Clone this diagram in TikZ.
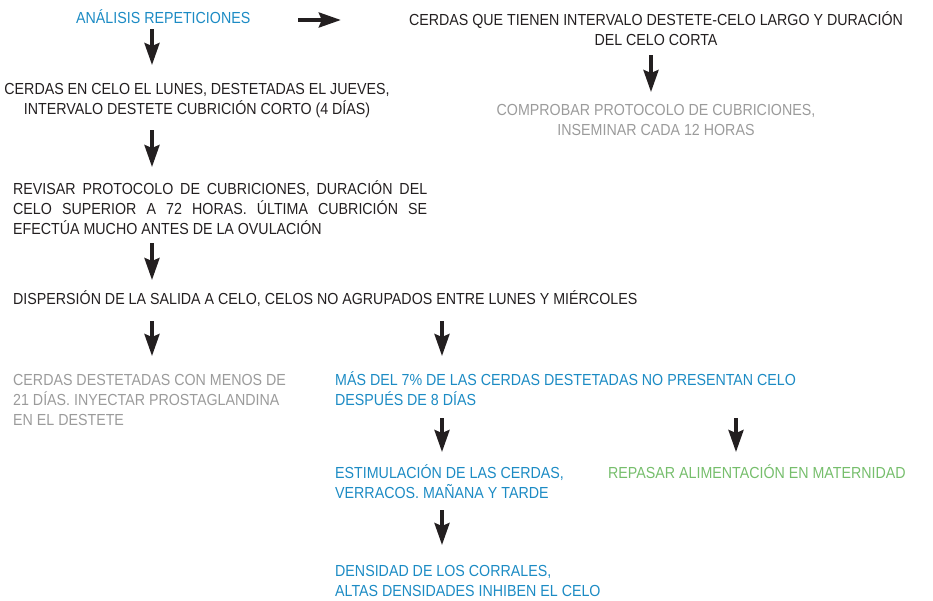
\documentclass[tikz,border=0pt]{standalone}
\usepackage{fontspec}
\setmainfont{Liberation Sans}[FakeStretch=0.89, HyphenChar=None]
\usepackage{tikz}
\usetikzlibrary{arrows.meta}
\definecolor{negro}{RGB}{35,31,32}
\definecolor{azul}{RGB}{28,139,196}
\definecolor{gris}{RGB}{155,155,155}
\definecolor{verde}{RGB}{118,190,108}

\tikzset{
  texto/.style={inner sep=0pt, anchor=base west, text=negro,
    font=\fontsize{16}{20}\selectfont, align=left},
  centrado/.style={texto, anchor=base, align=center},
  flecha/.style={line width=3.5pt, draw=negro,
    -{Stealth[length=22pt,width=15pt,inset=3pt]}}
}

\begin{document}
\begin{tikzpicture}[x=1pt,y=-1pt]
      \useasboundingbox (0,0) rectangle (933,600);
      \coordinate (colA) at (152,0);
      \coordinate (colB) at (651,0);
      \coordinate (colC) at (442,0);
      \coordinate (colD) at (736,0);
      % nodes sit on the baseline of their last line
      \node[texto, text=azul] (analisis) at (76,23) {ANÁLISIS REPETICIONES};
      \node[centrado] (cerdaslargo) at (656,45) {CERDAS QUE TIENEN INTERVALO DESTETE-CELO LARGO Y DURACIÓN\\DEL CELO CORTA};
      \node[centrado] (celolunes) at (197,114) {CERDAS EN CELO EL LUNES, DESTETADAS EL JUEVES,\\INTERVALO DESTETE CUBRICIÓN CORTO (4 DÍAS)};
      \node[centrado, text=gris] (comprobar) at (656,135) {COMPROBAR PROTOCOLO DE CUBRICIONES,\\INSEMINAR CADA 12 HORAS};
      \node[texto, text width=414pt, align=justify] (revisar) at (13,194) {REVISAR PROTOCOLO DE CUBRICIONES, DURACIÓN DEL CELO SUPERIOR A 72 HORAS. ÚLTIMA CUBRICIÓN SE EFECTÚA MUCHO ANTES DE LA OVULACIÓN};
      \node[texto] (dispersion) at (13,304) {DISPERSIÓN DE LA SALIDA A CELO, CELOS NO AGRUPADOS ENTRE LUNES Y MIÉRCOLES};
      \node[texto, text=gris] (destetadas) at (13,425) {CERDAS DESTETADAS CON MENOS DE\\21 DÍAS. INYECTAR PROSTAGLANDINA\\EN EL DESTETE};
      \node[texto, text=azul] (mas7) at (335,405) {MÁS DEL 7\% DE LAS CERDAS DESTETADAS NO PRESENTAN CELO\\DESPUÉS DE 8 DÍAS};
      \node[texto, text=azul] (estimulacion) at (335,498) {ESTIMULACIÓN DE LAS CERDAS,\\VERRACOS. MAÑANA Y TARDE};
      \node[texto, text=verde] (repasar) at (608,478) {REPASAR ALIMENTACIÓN EN MATERNIDAD};
      \node[texto, text=azul] (densidad) at (335,596) {DENSIDAD DE LOS CORRALES,\\ALTAS DENSIDADES INHIBEN EL CELO};
      \draw[flecha] ([xshift=48pt,yshift=3pt]analisis.base east) -- ([xshift=-68pt,yshift=25pt]cerdaslargo.base west);
      \draw[flecha] ([yshift=-6pt]analisis.base -| colA) -- ([yshift=49pt]celolunes.base -| colA);
      \draw[flecha] ([yshift=-10pt]cerdaslargo.base -| colB) -- ([yshift=43pt]comprobar.base -| colB);
      \draw[flecha] ([yshift=-16pt]celolunes.base -| colA) -- ([yshift=27pt]revisar.base -| colA);
      \draw[flecha] ([yshift=-49pt]revisar.base -| colA) -- ([yshift=24pt]dispersion.base -| colA);
      \draw[flecha] ([yshift=-17pt]dispersion.base -| colA) -- ([yshift=69pt]destetadas.base -| colA);
      \draw[flecha] ([yshift=-17pt]dispersion.base -| colC) -- ([yshift=49pt]mas7.base -| colC);
      \draw[flecha] ([yshift=-13pt]mas7.base -| colC) -- ([yshift=46pt]estimulacion.base -| colC);
      \draw[flecha] ([yshift=-13pt]mas7.base -| colD) -- ([yshift=26pt]repasar.base -| colD);
      \draw[flecha] ([yshift=-12pt]estimulacion.base -| colC) -- ([yshift=51pt]densidad.base -| colC);
    \end{tikzpicture}
\end{document}
